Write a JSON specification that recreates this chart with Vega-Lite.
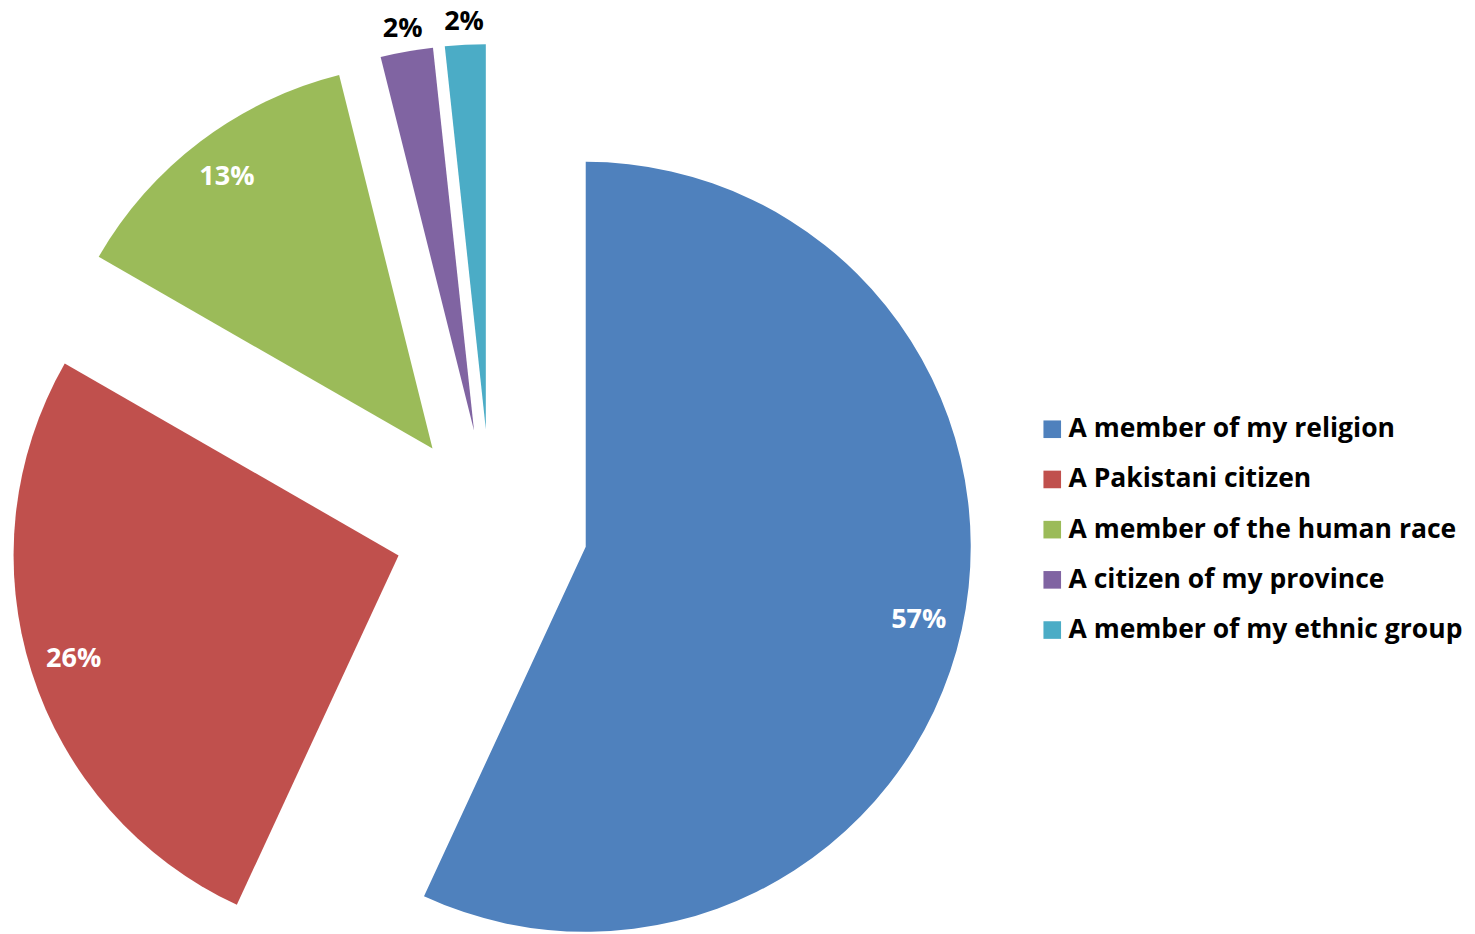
{
  "$schema": "https://vega.github.io/schema/vega-lite/v6.json",
  "width": 1475,
  "height": 934,
  "autosize": "none",
  "padding": 0,
  "background": "white",
  "config": {
    "view": {"stroke": null},
    "legend": {
      "orient": "none",
      "legendX": 1039,
      "legendY": 416,
      "labelFont": "Open Sans",
      "labelFontSize": 26.5,
      "labelFontWeight": "bold",
      "labelColor": "#000000",
      "labelLimit": 0,
      "symbolType": "square",
      "symbolSize": 310,
      "symbolStrokeWidth": 0,
      "rowPadding": 23.2,
      "labelOffset": 3
    }
  },
  "data": {
    "values": [
      {"category": "A member of my religion", "share": 0.569},
      {"category": "A Pakistani citizen", "share": 0.264},
      {"category": "A member of the human race", "share": 0.128},
      {"category": "A citizen of my province", "share": 0.022},
      {"category": "A member of my ethnic group", "share": 0.017}
    ]
  },
  "transform": [
    {"window": [{"op": "sum", "field": "share", "as": "cum"}], "frame": [null, 0]},
    {"calculate": "datum.cum - datum.share", "as": "start"},
    {"calculate": "datum.cum - datum.share / 2", "as": "mid"},
    {"calculate": "sin(2 * PI * datum.mid)", "as": "ex"},
    {"calculate": "cos(2 * PI * datum.mid)", "as": "ey"}
  ],
  "encoding": {
    "x": {"field": "ex", "type": "quantitative", "scale": {"domain": [-1, 1], "range": [394, 588]}, "axis": null},
    "y": {"field": "ey", "type": "quantitative", "scale": {"domain": [-1, 1], "range": [623, 429]}, "axis": null}
  },
  "layer": [
    {
      "mark": {"type": "arc", "outerRadius": 385, "innerRadius": 0},
      "encoding": {
        "theta": {"field": "start", "type": "quantitative", "stack": null, "scale": {"domain": [0, 1]}},
        "theta2": {"field": "cum"},
        "color": {
          "field": "category",
          "type": "nominal",
          "title": null,
          "scale": {
            "domain": ["A member of my religion", "A Pakistani citizen", "A member of the human race", "A citizen of my province", "A member of my ethnic group"],
            "range": ["#4F81BD", "#C0504D", "#9BBB59", "#8064A2", "#4BACC6"]
          }
        }
      }
    },
    {
      "transform": [{"filter": "datum.share >= 0.05"}],
      "mark": {"type": "text", "radius": 341, "font": "Open Sans", "fontSize": 27, "fontWeight": "bold", "fill": "#FFFFFF"},
      "encoding": {
        "theta": {"field": "mid", "type": "quantitative", "stack": null, "scale": {"domain": [0, 1]}},
        "text": {"field": "share", "type": "quantitative", "format": ".0%"}
      }
    },
    {
      "transform": [{"filter": "datum.share < 0.05"}],
      "mark": {"type": "text", "radius": 408, "font": "Open Sans", "fontSize": 27, "fontWeight": "bold", "fill": "#000000"},
      "encoding": {
        "theta": {"field": "mid", "type": "quantitative", "stack": null, "scale": {"domain": [0, 1]}},
        "text": {"field": "share", "type": "quantitative", "format": ".0%"}
      }
    }
  ]
}
